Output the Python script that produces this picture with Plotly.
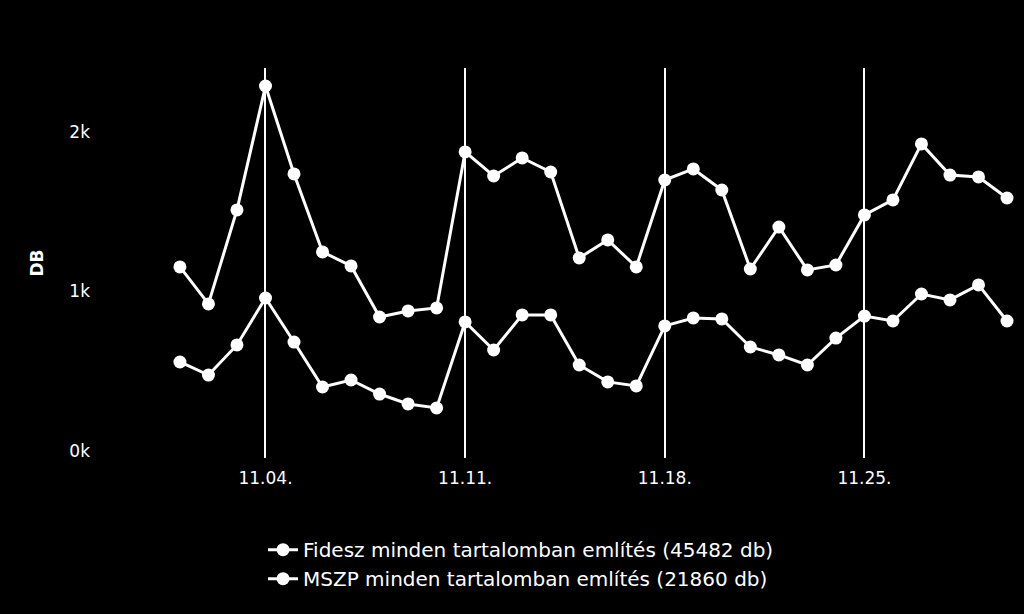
import plotly.graph_objects as go
import pandas as pd

dates = pd.date_range("2023-11-01", "2023-11-30", freq="D")
fidesz = [1154, 922, 1511, 2288, 1737, 1248, 1160, 840, 878, 897,
          1875, 1724, 1837, 1749, 1210, 1323, 1154, 1699, 1768, 1636,
          1141, 1404, 1135, 1166, 1480, 1574, 1925, 1730, 1718, 1586]
mszp = [558, 476, 665, 959, 683, 401, 445, 357, 295, 270,
        809, 633, 853, 853, 539, 433, 408, 784, 834, 828,
        652, 602, 539, 708, 846, 815, 984, 947, 1041, 815]
names = ["Fidesz minden tartalomban említés (45482 db)",
         "MSZP minden tartalomban említés (21860 db)"]
ytick_vals = [0, 1000, 2000]
ytick_text = ["0k", "1k", "2k"]
xtick_dates = ["2023-11-04", "2023-11-11", "2023-11-18", "2023-11-25"]

FONT = "DejaVu Sans"
fig = go.Figure()
for name, vals in zip(names, [fidesz, mszp]):
    fig.add_trace(go.Scatter(
        x=dates, y=vals, name=name, mode="lines+markers",
        line=dict(color="white", width=3),
        marker=dict(color="white", size=13),
    ))

start = pd.Timestamp("2023-11-01") - pd.Timedelta(hours=1.4 * 24)
end = pd.Timestamp("2023-11-30") + pd.Timedelta(hours=0.455 * 24)

fig.update_layout(
    width=1024, height=614,
    paper_bgcolor="black", plot_bgcolor="black",
    margin=dict(l=140, r=4, t=68, b=156),
    font=dict(family=FONT, color="white", size=17),
    showlegend=True,
    legend=dict(x=0.1398, xanchor="left", y=-0.185, yanchor="top",
                orientation="v", font=dict(size=20, color="white"),
                bgcolor="rgba(0,0,0,0)", tracegroupgap=0),
    xaxis=dict(range=[start, end], tickvals=xtick_dates, tickformat="%m.%d.",
               showgrid=True, gridcolor="white", gridwidth=2,
               zeroline=False, showline=False, ticks="",
               ticklabelstandoff=8,
               tickfont=dict(size=17, color="white")),
    yaxis=dict(range=[-44, 2401], tickvals=ytick_vals, ticktext=ytick_text,
               showgrid=False, zeroline=False, showline=False, ticks="",
               ticklabelstandoff=49,
               tickfont=dict(size=17, color="white"),
               title=dict(text="<b>DB</b>", standoff=21,
                          font=dict(size=17, color="white"))),
)

fig.write_html("out.html", config={"displayModeBar": False},
               post_script="document.body.style.margin='0';document.body.style.overflow='hidden';")
